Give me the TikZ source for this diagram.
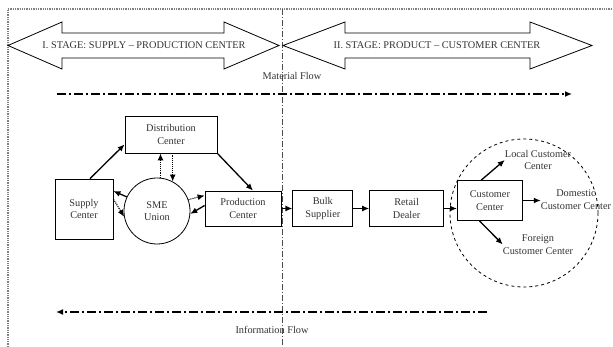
\documentclass[tikz,border=0pt]{standalone}
\usepackage{fontspec}
\setmainfont{Liberation Serif}
\usetikzlibrary{arrows.meta,positioning}
\tikzstyle{block}=[rectangle,draw=black,thick,inner sep=0pt,align=center,font=\fontsize{10.3}{12.5}\selectfont,text=black!80]
\tikzstyle{plain}=[inner sep=0pt,align=center,font=\fontsize{10.3}{12.5}\selectfont,text=black!80]
\tikzstyle{stage}=[draw=black,line width=0.8pt]
\tikzstyle{flow}=[line width=1.5pt,dash pattern=on 9pt off 3pt on 2pt off 3pt]
\tikzstyle{link}=[->,line width=1.3pt]
\tikzstyle{dotlink}=[->,line width=1.1pt,densely dotted]

\begin{document}
\begin{tikzpicture}[x=1pt,y=-1pt,>={Latex[length=7pt,width=6pt]}]
	\useasboundingbox (0,0) rectangle (613,347);
	% frame and divider
	\draw[gray,densely dotted,line width=1.3pt] (8,347) -- (8,9) -- (613,9);
	\draw[black!70,line width=0.7pt,dash pattern=on 6pt off 2pt on 1pt off 2pt] (282,9) -- (282,347);

	% stages
	\draw[stage] (8,45.5) -- (62,22) -- (62,33) -- (224,33) -- (224,22) -- (279,45.5) -- (224,69) -- (224,58) -- (62,58) -- (62,69) -- cycle;
	\node[plain] (stageI) at (144,45.5) {I. STAGE: SUPPLY -- PRODUCTION CENTER};
	\draw[stage] (283,45.5) -- (345,22) -- (345,33) -- (530,33) -- (530,22) -- (592,45.5) -- (530,69) -- (530,58) -- (345,58) -- (345,69) -- cycle;
	\node[plain] (stageII) at (437,45.5) {II. STAGE: PRODUCT -- CUSTOMER CENTER};

	% flows
	\node[plain] (matflow) at (292,76) {Material Flow};
	\coordinate (mfstart) at (57,94);
	\coordinate (mfend) at (572,94);
	\draw[flow,->] (mfstart) -- (mfend);
	\node[plain] (infoflow) at (272,330) {Information Flow};
	\coordinate (ifstart) at (487,312);
	\coordinate (ifend) at (56,312);
	\draw[flow,->] (ifstart) -- (ifend);

	% blocks
	\node[block,minimum width=92pt,minimum height=37pt] (dist) at (171,134.5) {Distribution\\Center};
	\node[block,minimum width=58pt,minimum height=60pt] (supply) at (84,209) {Supply\\Center};
	\node[block,circle,minimum size=66pt] (sme) at (157,211) {SME\\Union};
	\node[block,minimum width=76pt,minimum height=35pt] (prod) at (243,208.5) {Production\\Center};
	\node[block,minimum width=60pt,minimum height=36pt,right=11pt of prod] (bulk) {Bulk\\Supplier};
	\node[block,minimum width=74pt,minimum height=36pt,right=16pt of bulk] (retail) {Retail\\Dealer};
	\node[block,minimum width=65pt,minimum height=40pt,right=13pt of retail,yshift=8pt] (cust) {Customer\\Center};

	% customers
	\node[draw,thick,dashed,circle,minimum size=148pt] (market) at (524,213) {};
	\node[plain] (local) at (538,160) {Local Customer\\Center};
	\node[plain] (domestic) at (576,199.5) {Domestic\\Customer Center};
	\node[plain] (foreign) at (538,244.5) {Foreign\\Customer Center};

	% links
	\draw[link] ([xshift=6pt]supply.north) -- ([yshift=9pt]dist.south west);
	\draw[link] (dist.south east) -- ([xshift=10pt]prod.north);
	\draw[dotlink] (sme.84) -- (sme.84 |- dist.south);
	\draw[dotlink] (sme.62 |- dist.south) -- (sme.62);
	\draw[link] (sme.155) -- ([yshift=18pt]supply.east);
	\draw[dotlink] ([yshift=10pt]supply.east) -- (sme.190);
	\draw[dotlink] (sme.20) -- ([yshift=13pt]prod.west);
	\draw[link] ([yshift=3pt]prod.west) -- (sme.-5);
	\draw[link] (prod) -- (bulk);
	\draw[link] (bulk) -- (retail);
	\draw[link] (retail) -- (cust.west |- retail);
	\draw[link] (cust.113) -- (local.west);
	\draw[link] (cust.east) -- (cust.east -| domestic.west);
	\draw[link] (cust.243) -- (foreign.west);
\end{tikzpicture}
\end{document}
